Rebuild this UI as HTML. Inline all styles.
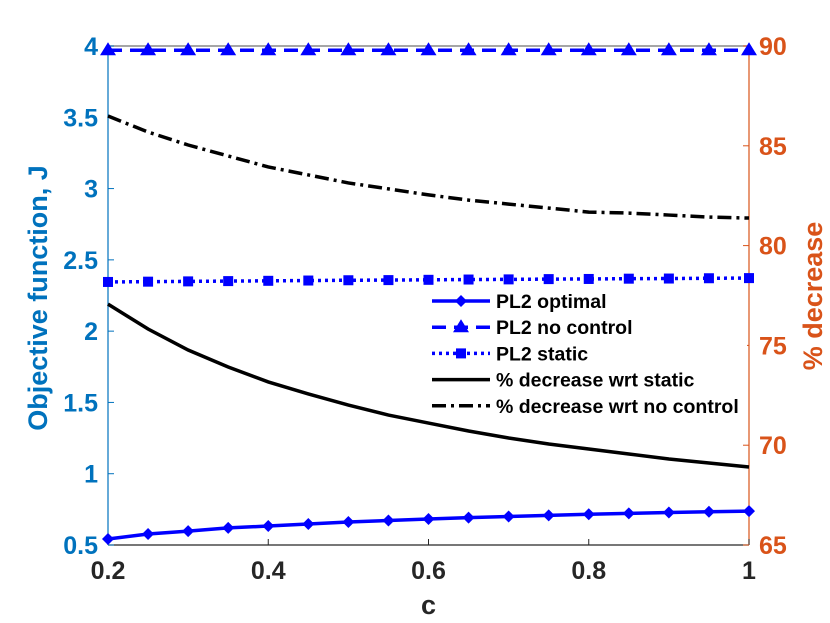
<!DOCTYPE html>
<html><head><meta charset="utf-8"><style>
body{margin:0;background:#fff;}
svg{display:block;font-family:"Liberation Sans",Arial,sans-serif;font-weight:bold;}
</style></head><body>
<svg id="chart" width="830" height="623" viewBox="0 0 830 623" xmlns="http://www.w3.org/2000/svg">
<rect x="0" y="0" width="830" height="623" fill="#fff"/>
<g id="plot"></g>
</svg>
<script>
const cValues=[0.2,0.25,0.3,0.35,0.4,0.45,0.5,0.55,0.6,0.65,0.7,0.75,0.8,0.85,0.9,0.95,1.0];
const optimal=[0.542,0.577,0.597,0.62,0.633,0.647,0.661,0.672,0.682,0.692,0.70,0.708,0.716,0.722,0.728,0.733,0.738];
const noControl=[3.97,3.97,3.97,3.97,3.97,3.97,3.97,3.97,3.97,3.97,3.97,3.97,3.97,3.97,3.97,3.97,3.97];
const staticJ=[2.345,2.347,2.349,2.351,2.353,2.355,2.357,2.358,2.36,2.362,2.363,2.365,2.366,2.368,2.369,2.371,2.372];
const decStatic=[77.07,75.82,74.77,73.92,73.17,72.57,72.01,71.51,71.11,70.71,70.36,70.06,69.81,69.56,69.31,69.11,68.91];
const decNoControl=[86.49,85.69,85.04,84.49,83.94,83.54,83.14,82.84,82.54,82.28,82.08,81.88,81.68,81.63,81.53,81.43,81.38];
const xTicks=[0.2,0.4,0.6,0.8,1];
const xTickLabels=["0.2","0.4","0.6","0.8","1"];
const yLeftTicks=[0.5,1,1.5,2,2.5,3,3.5,4];
const yLeftLabels=["0.5","1","1.5","2","2.5","3","3.5","4"];
const yRightTicks=[65,70,75,80,85,90];
const yRightLabels=["65","70","75","80","85","90"];

const L=108,R=749,T=46,B=545;
const BLUE='#0072BD',ORANGE='#D95319',LINE='#0000FF';
const xs=v=>L+(v-0.2)/(1-0.2)*(R-L);
const yl=v=>B-(v-0.5)/(4-0.5)*(B-T);
const yr=v=>B-(v-65)/(90-65)*(B-T);
const NS='http://www.w3.org/2000/svg';
const g=document.getElementById('plot');
function mk(tag,attrs,parent){const e=document.createElementNS(NS,tag);for(const k in attrs)e.setAttribute(k,attrs[k]);(parent||g).appendChild(e);return e;}

let e;
e=mk('line',{x1:L,y1:T,x2:R,y2:T,stroke:'#888','stroke-width':1.5});


e=mk('line',{x1:L,y1:B,x2:R,y2:B,stroke:'#262626','stroke-width':1.2});


e=mk('line',{x1:L,y1:T,x2:L,y2:B,stroke:BLUE,'stroke-width':1.2});


e=mk('line',{x1:R,y1:T,x2:R,y2:B,stroke:ORANGE,'stroke-width':1.2});



xTicks.forEach((v,i)=>{
  e=mk('line',{x1:xs(v),y1:B,x2:xs(v),y2:B-6,stroke:'#262626','stroke-width':1});
  
  
  e=mk('text',{x:xs(v),y:B+34,'text-anchor':'middle','font-size':25,fill:'#262626'});
  e.textContent=xTickLabels[i];
  
  
});
yLeftTicks.forEach((v,i)=>{
  e=mk('line',{x1:L,y1:yl(v),x2:L+6,y2:yl(v),stroke:BLUE,'stroke-width':1});
  
  
  e=mk('text',{x:L-10,y:yl(v)+9,'text-anchor':'end','font-size':25,fill:BLUE});
  e.textContent=yLeftLabels[i];
  
  
});
yRightTicks.forEach((v,i)=>{
  e=mk('line',{x1:R,y1:yr(v),x2:R-6,y2:yr(v),stroke:ORANGE,'stroke-width':1});
  
  
  e=mk('text',{x:R+10,y:yr(v)+9,'text-anchor':'start','font-size':25,fill:ORANGE});
  e.textContent=yRightLabels[i];
  
  
});
e=mk('text',{x:xs(0.6),y:614,'text-anchor':'middle','font-size':27,fill:'#262626'});
e.textContent='c';


e=mk('text',{x:0,y:0,'text-anchor':'middle','font-size':27,fill:BLUE,transform:'translate(47,298) rotate(-90)'});
e.textContent='Objective function, J';


e=mk('text',{x:0,y:0,'text-anchor':'middle','font-size':27,fill:ORANGE,transform:'translate(822,296) rotate(-90)'});
e.textContent='% decrease';



function pts(vals,yf){return cValues.map((c,i)=>xs(c)+','+yf(vals[i])).join(' ');}
function series(vals,yf,color,dash,name){
  const p=mk('polyline',{points:pts(vals,yf),fill:'none',stroke:color,'stroke-width':3.5,'stroke-dasharray':dash});
  
  
}
function marker(type,x,y,color,parent){
  let m;
  if(type==='diamond')m=mk('polygon',{points:`${x},${y-6} ${x+6},${y} ${x},${y+6} ${x-6},${y}`,fill:color},parent);
  else if(type==='tri')m=mk('polygon',{points:`${x},${y-8} ${x+8},${y+5} ${x-8},${y+5}`,fill:color},parent);
  else m=mk('rect',{x:x-5,y:y-5,width:10,height:10,fill:color},parent);
  return m;
}
series(decNoControl,yr,'#000','14 5 3 5','line-decrease-wrt-no-control');
series(decStatic,yr,'#000','none','line-decrease-wrt-static');
series(staticJ,yl,LINE,'3 4','line-pl2-static');
series(noControl,yl,LINE,'14 8','line-pl2-no-control');
series(optimal,yl,LINE,'none','line-pl2-optimal');
cValues.forEach((c,i)=>{
  e=marker('diamond',xs(c),yl(optimal[i]),LINE);
  
  
  e=marker('tri',xs(c),yl(noControl[i]),LINE);
  
  
  e=marker('sq',xs(c),yl(staticJ[i]),LINE);
  
  
});

const lg=mk('g',{});


mk('rect',{x:425,y:287,width:322,height:132,fill:'#fff'},lg);
const legItems=[['PL2 optimal',LINE,'none','diamond'],['PL2 no control',LINE,'14 8','tri'],['PL2 static',LINE,'3 4','sq'],['% decrease wrt static','#000','none',null],['% decrease wrt no control','#000','14 5 3 5',null]];
legItems.forEach((it,i)=>{
  const y=301+i*26.2;
  const eg=mk('g',{},lg);
  
  
  mk('line',{x1:432,y1:y,x2:490,y2:y,stroke:it[1],'stroke-width':3.5,'stroke-dasharray':it[2]},eg);
  if(it[3])marker(it[3],461,y,it[1],eg);
  const t=mk('text',{x:496,y:y+7,'font-size':19.5,fill:'#000'},eg);
  t.textContent=it[0];
});
</script>
</body></html>
